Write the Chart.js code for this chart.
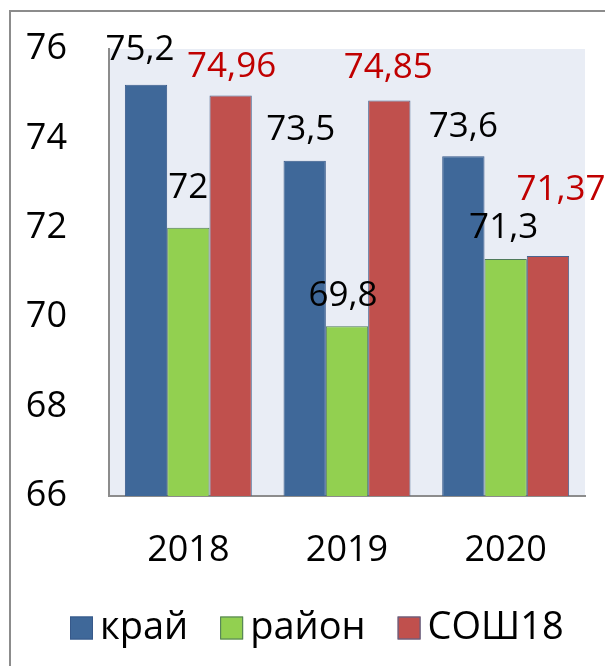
<!DOCTYPE html>
<html>
<head>
<meta charset="utf-8">
<script src="https://cdn.jsdelivr.net/npm/chart.js@4/dist/chart.umd.min.js"></script>
<style>
  html, body { margin: 0; padding: 0; background: #fff; }
  #wrap { width: 605px; height: 666px; }
</style>
</head>
<body>
<div id="wrap"><canvas id="ch"></canvas></div>
<script>
// data
const years = ["2018", "2019", "2020"];
const seriesNames = ["край", "район", "СОШ18"];
const kray = [75.2, 73.5, 73.6];
const rayon = [72, 69.8, 71.3];
const school = [74.96, 74.85, 71.37];
const yTicks = [66, 68, 70, 72, 74, 76];

// label nudges (px) so they sit like in the original
const labelShift = [
  [[-6, -35], [-4, -31], [0, -29]],
  [[0, -40], [-4, -30], [-2, -31]],
  [[1, -28], [-1, -32], [13, -66]]
];
const labelColors = ["#000000", "#000000", "#C00000"];

const FONT = "'Open Sans', 'Noto Sans', sans-serif";

const frame = {
  id: "frame",
  beforeDraw(chart) {
    const c = chart.ctx, a = chart.chartArea;
    c.save();
    c.fillStyle = "#E9EDF5";
    c.fillRect(a.left, a.top, a.right - a.left, a.bottom - a.top);
    c.strokeStyle = "#8c8c8c";
    c.lineWidth = 2;
    c.strokeRect(10, 11, 700, 700);
    c.restore();
  }
};

const valueLabels = {
  id: "valueLabels",
  afterDatasetsDraw(chart) {
    const c = chart.ctx;
    c.save();
    c.font = "35px " + FONT;
    c.textAlign = "center";
    c.textBaseline = "middle";
    chart.data.datasets.forEach((ds, i) => {
      chart.getDatasetMeta(i).data.forEach((bar, j) => {
        const s = labelShift[i][j];
        c.fillStyle = labelColors[i];
        c.fillText(String(ds.data[j]).replace(".", ","), bar.x + s[0], bar.y + s[1]);
      });
    });
    c.restore();
  }
};

// legend drawn by hand to get the Excel spacing (small gap box->text, wide gap between items)
const bottomLegend = {
  id: "bottomLegend",
  afterDraw(chart) {
    const c = chart.ctx;
    c.save();
    c.font = "38px " + FONT;
    c.textBaseline = "middle";
    let x = 70;
    const y = 628;
    chart.data.datasets.forEach(ds => {
      c.fillStyle = ds.backgroundColor;
      c.fillRect(x, y - 11.5, 23, 23);
      c.strokeStyle = ds.borderColor;
      c.lineWidth = 1;
      c.strokeRect(x + 0.5, y - 11, 22, 22);
      c.fillStyle = "#000";
      c.fillText(ds.label, x + 30, y);
      x += 30 + c.measureText(ds.label).width + 32;
    });
    c.restore();
  }
};

new Chart(document.getElementById("ch"), {
  type: "bar",
  data: {
    labels: years,
    datasets: [
      { label: seriesNames[0], data: kray, backgroundColor: "#3F6899", borderColor: "#37598a", borderWidth: 1 },
      { label: seriesNames[1], data: rayon, backgroundColor: "#92D050", borderColor: "#4f7a5a", borderWidth: 1 },
      { label: seriesNames[2], data: school, backgroundColor: "#C0504D", borderColor: "#4a6590", borderWidth: 1 }
    ]
  },
  options: {
    responsive: true,
    maintainAspectRatio: false,
    animation: false,
    events: [],
    layout: { padding: { top: 49, right: 20, left: 0, bottom: 95 } },
    datasets: { bar: { barPercentage: 1.0, categoryPercentage: 0.8 } },
    scales: {
      x: {
        grid: { display: false, drawTicks: false },
        border: { color: "#8c8c8c", width: 2 },
        afterFit(scale) { scale.height = 75; },
        ticks: { color: "#000", font: { family: FONT, size: 36 }, padding: 33 }
      },
      y: {
        min: 66, max: 76,
        grid: { display: false, drawTicks: false },
        border: { color: "#8c8c8c", width: 2 },
        afterFit(scale) {
          scale.width = 109;
          scale.paddingTop = 0;
          scale.paddingBottom = 0;
        },
        afterBuildTicks(scale) { scale.ticks = yTicks.map(v => ({ value: v })); },
        ticks: { color: "#000", font: { family: FONT, size: 36 }, padding: 42 }
      }
    },
    plugins: {
      tooltip: { enabled: false },
      legend: { display: false }
    }
  },
  plugins: [frame, valueLabels, bottomLegend]
});
</script>
</body>
</html>
